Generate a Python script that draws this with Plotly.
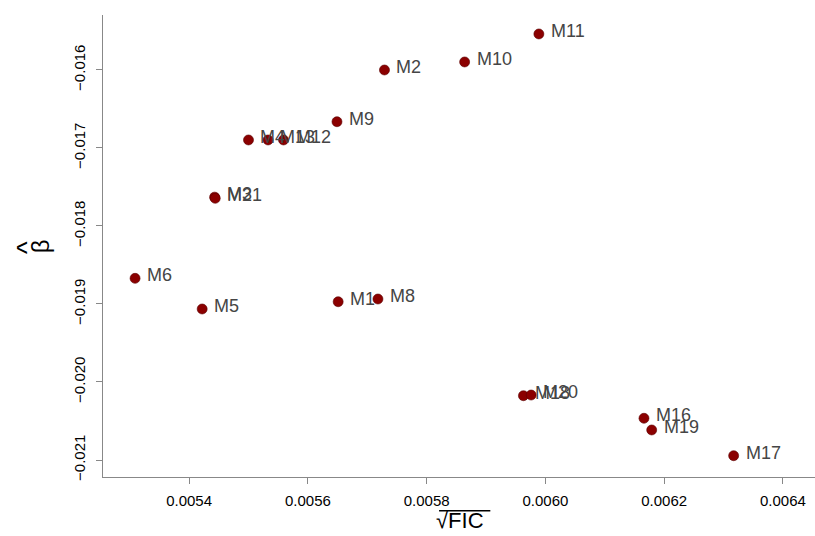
import plotly.graph_objects as go

# Model labels, sqrt(FIC) on x, estimated beta on y
models = ["M11", "M10", "M2", "M9", "M4", "M13", "M12", "M3", "M21", "M6", "M5",
          "M1", "M8", "M18", "M20", "M16", "M19", "M17"]
sqrt_fic = [0.005989, 0.005864, 0.005729, 0.005649, 0.005500, 0.005533, 0.005559,
            0.005443, 0.005444, 0.005309, 0.005422, 0.005651, 0.005718, 0.005963,
            0.005976, 0.006166, 0.006179, 0.006317]
beta_hat = [-0.015538, -0.015897, -0.016000, -0.016663, -0.016897, -0.016897, -0.016897,
            -0.017630, -0.017645, -0.018671, -0.019064, -0.018971, -0.018936, -0.020176,
            -0.020167, -0.020465, -0.020615, -0.020945]

x_ticks = [0.0054, 0.0056, 0.0058, 0.0060, 0.0062, 0.0064]
y_ticks = [-0.021, -0.020, -0.019, -0.018, -0.017, -0.016]

FONT = "Liberation Sans, Arial"

fig = go.Figure()
fig.add_trace(go.Scatter(
    x=sqrt_fic, y=beta_hat, mode="markers",
    marker=dict(size=10, color="#8B0000", line=dict(width=0.6, color="#5a0000")),
    hoverinfo="text", text=models, showlegend=False,
))

# Point labels to the right of each marker
for name, xv, yv in zip(models, sqrt_fic, beta_hat):
    fig.add_annotation(x=xv, y=yv, text=name, showarrow=False,
                       xanchor="left", yanchor="middle", xshift=10, yshift=3,
                       font=dict(family=FONT, size=18, color="#454545"))

# x-axis title: square root with overline
fig.add_annotation(x=0.501, y=-0.095, xref="paper", yref="paper", text="√FIC",
                   showarrow=False, xanchor="center", yanchor="middle",
                   font=dict(family=FONT, size=22, color="black"))
fig.add_shape(type="line", xref="paper", yref="paper",
              x0=0.472, x1=0.544, y0=-0.073, y1=-0.073,
              line=dict(color="black", width=1.3))

# y-axis title: beta with a hat, rotated
fig.add_annotation(x=-0.088, y=0.5, xref="paper", yref="paper", text="β",
                   showarrow=False, textangle=-90, xanchor="center", yanchor="middle",
                   font=dict(family=FONT, size=24, color="black"))
fig.add_annotation(x=-0.106, y=0.497, xref="paper", yref="paper", text="^",
                   showarrow=False, textangle=-90, xanchor="center", yanchor="middle",
                   font=dict(family=FONT, size=27, color="black"))

axis_common = dict(showgrid=False, zeroline=False, showline=True, linecolor="#888888",
                   linewidth=1.2, ticks="outside", ticklen=6, tickcolor="#888888",
                   tickwidth=1.2,
                   tickfont=dict(family=FONT, size=15, color="black"))

fig.update_xaxes(range=[0.005255, 0.006454], tickvals=x_ticks,
                 ticktext=[f"{v:.4f}" for v in x_ticks], ticklabelstandoff=4,
                 **axis_common)
fig.update_yaxes(range=[-0.021218, -0.015295], tickvals=y_ticks,
                 ticktext=[f"\u2212{abs(v):.3f}" for v in y_ticks], tickangle=-90,
                 ticklabelstandoff=5, **axis_common)

fig.update_layout(width=815, height=536, margin=dict(l=103, r=0, t=15, b=59),
                  plot_bgcolor="white", paper_bgcolor="white")

fig.write_html("out.html")
